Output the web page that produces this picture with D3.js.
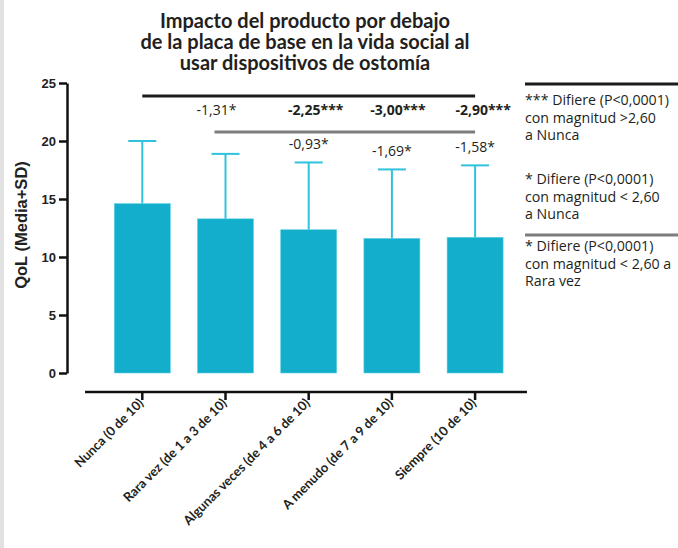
<!DOCTYPE html>
<html>
<head>
<meta charset="utf-8">
<script src="https://cdn.jsdelivr.net/npm/d3@7"></script>
<style>
  html, body { margin: 0; padding: 0; background: #fff; }
  svg { display: block; }
</style>
</head>
<body>
<div id="chart"></div>
<script>
// Frequency categories and QoL scores (mean and SD)
const categories = [
  "Nunca (0 de 10)",
  "Rara vez (de 1 a 3 de 10)",
  "Algunas veces (de 4 a 6 de 10)",
  "A menudo (de 7 a 9 de 10)",
  "Siempre (10 de 10)"
];
const means = [14.60, 13.29, 12.35, 11.60, 11.70];
const sds = [5.40, 5.60, 5.80, 5.95, 6.20];
const yTicks = [0, 5, 10, 15, 20, 25];

// Differences against "Nunca" (categories 2..5) and against "Rara vez" (categories 3..5)
const diffVsNunca = ["-1,31*", "-2,25***", "-3,00***", "-2,90***"];
const diffVsNuncaBold = [false, true, true, true];
const diffVsRara = ["-0,93*", "-1,69*", "-1,58*"];

const titleLines = [
  "Impacto del producto por debajo",
  "de la placa de base en la vida social al",
  "usar dispositivos de ostomía"
];
const legendBlocks = [
  ["*** Difiere (P<0,0001)", "con magnitud >2,60", "a Nunca"],
  ["* Difiere (P<0,0001)", "con magnitud < 2,60", "a Nunca"],
  ["* Difiere (P<0,0001)", "con magnitud < 2,60 a", "Rara vez"]
];

const W = 678, H = 548;
const barColor = "#12aecb";
const errColor = "#2fc2dd";

const svg = d3.select("#chart").append("svg")
  .attr("width", W).attr("height", H);

svg.append("rect").attr("width", W).attr("height", H).attr("fill", "#fff");
svg.append("rect").attr("x", 0).attr("y", 0).attr("width", 4).attr("height", H).attr("fill", "#e2e2e2");

// Scales
const x = d3.scaleBand()
  .domain(categories)
  .range([100.7, 516.7])
  .paddingInner(0.327)
  .paddingOuter(0.1635);
const y = d3.scaleLinear().domain([0, 25]).range([373, 83]);
const cx = c => x(c) + x.bandwidth() / 2;

// Title
svg.append("g").selectAll("text").data(titleLines).join("text")
  .attr("x", 305)
  .attr("y", (d, i) => 28 + i * 21)
  .attr("text-anchor", "middle")
  .attr("font-family", "Lato, 'Open Sans', sans-serif")
  .attr("font-weight", 700)
  .attr("font-size", 20)
  .attr("fill", "#231f20")
  .text(d => d);

// Y axis
const yAxis = svg.append("g")
  .attr("transform", "translate(67,0)")
  .call(d3.axisLeft(y).tickValues(yTicks).tickSize(8).tickSizeOuter(0).tickPadding(3));
yAxis.select(".domain").attr("stroke", "#111").attr("stroke-width", 2.5);
yAxis.selectAll(".tick line").attr("stroke", "#111").attr("stroke-width", 2.5);
yAxis.selectAll(".tick text")
  .attr("font-family", "'Liberation Sans', Arial, sans-serif")
  .attr("font-weight", 700)
  .attr("font-size", 13)
  .attr("fill", "#222");

svg.append("text")
  .attr("transform", "translate(27,225) rotate(-90)")
  .attr("text-anchor", "middle")
  .attr("font-family", "'Liberation Sans', Arial, sans-serif")
  .attr("font-weight", 700)
  .attr("font-size", 16.5)
  .attr("fill", "#222")
  .text("QoL (Media+SD)");

// X axis (offset below the bars)
const xAxis = svg.append("g")
  .attr("transform", "translate(0,392)")
  .call(d3.axisBottom(x).tickSize(8).tickSizeOuter(0));
xAxis.select(".domain").remove();
xAxis.insert("line", ":first-child")
  .attr("x1", 85).attr("x2", 527).attr("y1", 0).attr("y2", 0)
  .attr("stroke", "#111").attr("stroke-width", 2.5);
xAxis.selectAll(".tick line").attr("stroke", "#111").attr("stroke-width", 2.5);
xAxis.selectAll(".tick text")
  .attr("font-family", "Lato, 'Open Sans', sans-serif")
  .attr("font-weight", 700)
  .attr("font-size", 13)
  .attr("fill", "#231f20")
  .attr("text-anchor", "end")
  .attr("y", 0).attr("dy", 0)
  .attr("transform", "translate(2,12) rotate(-45)");

// Error bars (mean + SD)
const err = svg.append("g").attr("stroke", errColor).attr("stroke-width", 2);
categories.forEach((c, i) => {
  const top = y(means[i] + sds[i]);
  err.append("line").attr("x1", cx(c)).attr("x2", cx(c)).attr("y1", y(means[i])).attr("y2", top);
  err.append("line").attr("x1", cx(c) - 14).attr("x2", cx(c) + 14).attr("y1", top).attr("y2", top);
});

// Bars
svg.append("g").selectAll("rect").data(categories).join("rect")
  .attr("x", d => x(d))
  .attr("width", x.bandwidth())
  .attr("y", (d, i) => y(means[i]))
  .attr("height", (d, i) => y(0) - y(means[i]))
  .attr("fill", barColor)
  .attr("stroke", "#5fd0e4")
  .attr("stroke-width", 0.6);

// Comparison brackets
svg.append("line")
  .attr("x1", cx(categories[0])).attr("x2", cx(categories[4]))
  .attr("y1", 96).attr("y2", 96)
  .attr("stroke", "#1b1b1b").attr("stroke-width", 3);
svg.append("line")
  .attr("x1", cx(categories[1]) - 11).attr("x2", cx(categories[4]))
  .attr("y1", 132).attr("y2", 132)
  .attr("stroke", "#7d7d7d").attr("stroke-width", 3);

// Differences vs Nunca
const row1Shift = [-9, 7, 6, 8];
svg.append("g").selectAll("text").data(diffVsNunca).join("text")
  .attr("x", (d, i) => cx(categories[i + 1]) + row1Shift[i])
  .attr("y", 115)
  .attr("text-anchor", "middle")
  .attr("font-family", "'Open Sans', sans-serif")
  .attr("font-size", 14)
  .attr("font-weight", (d, i) => diffVsNuncaBold[i] ? 700 : 400)
  .attr("fill", "#231f20")
  .text(d => d);

// Differences vs Rara vez, just above each error cap
svg.append("g").selectAll("text").data(diffVsRara).join("text")
  .attr("x", (d, i) => cx(categories[i + 2]))
  .attr("y", (d, i) => y(means[i + 2] + sds[i + 2]) - 13)
  .attr("text-anchor", "middle")
  .attr("font-family", "'Open Sans', sans-serif")
  .attr("font-size", 14)
  .attr("fill", "#231f20")
  .text(d => d);

// Legend
const lg = svg.append("g").attr("transform", "translate(525,0)");
lg.append("line").attr("x1", 0).attr("x2", 160).attr("y1", 84).attr("y2", 84)
  .attr("stroke", "#1b1b1b").attr("stroke-width", 3);
lg.append("line").attr("x1", 0).attr("x2", 160).attr("y1", 235).attr("y2", 235)
  .attr("stroke", "#7d7d7d").attr("stroke-width", 3);
const blockTop = [105, 184, 251];
legendBlocks.forEach((lines, b) => {
  lg.append("g").selectAll("text").data(lines).join("text")
    .attr("x", 0)
    .attr("y", (d, i) => blockTop[b] + i * 17.5)
    .attr("font-family", "'Open Sans', sans-serif")
    .attr("font-size", 14.2)
    .attr("fill", "#231f20")
    .text(d => d);
});
</script>
</body>
</html>
